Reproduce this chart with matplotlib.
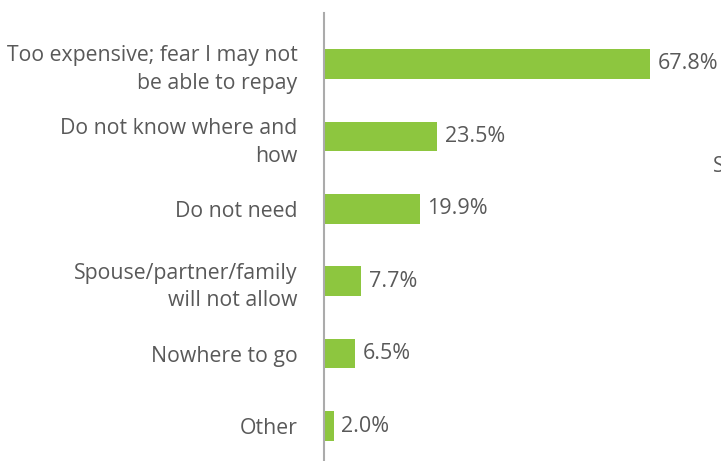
import matplotlib.pyplot as plt

plt.rcParams['font.family'] = ['Open Sans', 'DejaVu Sans']

# Reasons for not borrowing, share of respondents (%)
reasons = [
    'Too expensive; fear I may not\nbe able to repay',
    'Do not know where and\nhow',
    'Do not need',
    'Spouse/partner/family\nwill not allow',
    'Nowhere to go',
    'Other',
]
shares = [67.8, 23.5, 19.9, 7.7, 6.5, 2.0]

bar_color = '#8dc63f'
text_color = '#595959'

fig = plt.figure(figsize=(7.21, 4.61), dpi=100)
ax = fig.add_axes([324 / 721, 0, 397 / 721, 448 / 461])

pos = list(range(len(reasons)))
ax.barh(pos, shares, height=0.41, color=bar_color, zorder=2)

for p, v in zip(pos, shares):
    ax.annotate(f'{v:.1f}%', (v, p), xytext=(5.5, 0), textcoords='offset points',
                va='center', ha='left', fontsize=15.5, color=text_color)

ax.set_xlim(0, 82.5)
ax.set_ylim(5.483, -0.704)
ax.set_yticks(pos)
ax.set_yticklabels(reasons, fontsize=15.3, color=text_color, linespacing=1.42)
ax.tick_params(axis='y', length=0, pad=19)
ax.set_xticks([])

for side in ['top', 'right', 'bottom']:
    ax.spines[side].set_visible(False)
ax.spines['left'].set_color('#ababab')
ax.spines['left'].set_linewidth(1.5)

# edge of a neighbouring label that runs off the right side
fig.text(713 / 721, 1 - 166 / 461, 'S', fontsize=15, color=text_color,
         va='center', ha='left')

fig.savefig('out.png', dpi=100)
